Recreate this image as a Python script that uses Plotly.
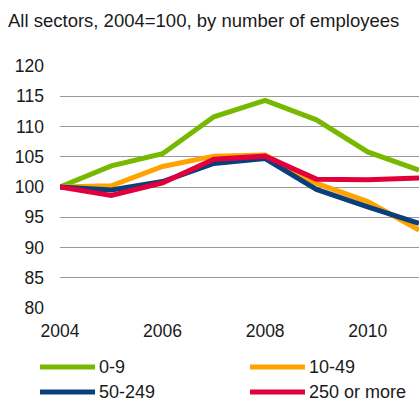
import plotly.graph_objects as go

years = [2004, 2005, 2006, 2007, 2008, 2009, 2010, 2011]
size_0_9 = [100, 103.5, 105.5, 111.6, 114.3, 111.1, 105.8, 102.8]
size_10_49 = [100, 100.2, 103.4, 105.1, 105.3, 100.6, 97.6, 92.9]
size_50_249 = [100, 99.5, 100.9, 103.9, 104.7, 99.6, 96.7, 94.0]
size_250_plus = [100, 98.6, 100.7, 104.6, 105.1, 101.3, 101.2, 101.5]

names = ["0-9", "10-49", "50-249", "250 or more"]
colors = ["#77b800", "#ffa300", "#0a3f7c", "#e2003c"]
series = [size_0_9, size_10_49, size_50_249, size_250_plus]

x_ticks = [2004, 2006, 2008, 2010]
y_ticks = [80, 85, 90, 95, 100, 105, 110, 115, 120]

fig = go.Figure()
for name, color, vals in zip(names, colors, series):
    fig.add_trace(go.Scatter(x=years, y=vals, name=name, mode="lines",
                             line=dict(color=color, width=5),
                             showlegend=False))

family = "Liberation Sans, Arial, sans-serif"
font = dict(family=family, size=17.5, color="#1a1a1a")
legend_font = dict(family=family, size=18, color="#1a1a1a")
title_font = dict(family=family, size=18.5, color="#1a1a1a")

# Two-column legend drawn below the plot
plot_w = 359
legend_pos = [(40, 367), (250, 367), (40, 392), (250, 392)]
for (px, py), name, color in zip(legend_pos, names, colors):
    x0 = (px - 60) / plot_w
    x1 = (px + 55 - 60) / plot_w
    y = (308 - py) / 242
    fig.add_shape(type="line", xref="paper", yref="paper", x0=x0, x1=x1,
                  y0=y, y1=y, line=dict(color=color, width=5))
    fig.add_annotation(xref="paper", yref="paper", x=x1 + 2 / plot_w, y=y,
                       text=name, showarrow=False, xanchor="left",
                       yanchor="middle", font=legend_font)

fig.update_layout(
    width=419, height=401,
    margin=dict(l=60, r=0, t=66, b=93),
    paper_bgcolor="white", plot_bgcolor="white",
    font=font,
    title=dict(text="All sectors, 2004=100, by number of employees",
               x=8 / 419, xanchor="left", y=1 - 21 / 401, yanchor="middle",
               font=title_font),
)
fig.update_xaxes(range=[2004, 2011], tickvals=x_ticks, showgrid=False,
                 zeroline=False, showline=False, ticks="", ticklabelstandoff=10)
fig.update_yaxes(range=[80, 120], tickvals=y_ticks, showgrid=True,
                 gridcolor="#9a9a9a", gridwidth=1, zeroline=False,
                 showline=False, ticks="", ticklabelstandoff=15)

fig.write_html("out.html")
